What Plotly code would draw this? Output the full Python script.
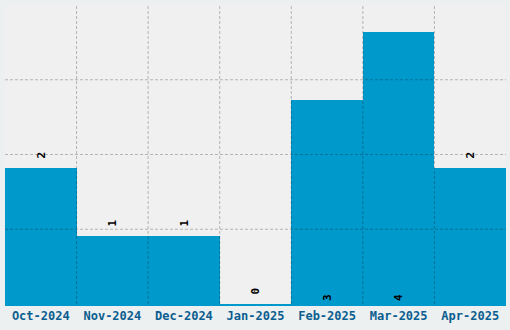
import plotly.graph_objects as go

months = ["Oct-2024", "Nov-2024", "Dec-2024", "Jan-2025", "Feb-2025", "Mar-2025", "Apr-2025"]
counts = [2, 1, 1, 0, 3, 4, 2]
label_pos = ["outside", "outside", "outside", "outside", "inside", "inside", "outside"]

Y_MAX = 4.4
Y_STEP = 1.1
BAR = "#0099cc"
GRID = "rgba(0,0,0,0.25)"

labels = [("\u2009" if p == "outside" else "") + str(v) for v, p in zip(counts, label_pos)]

fig = go.Figure(go.Bar(
    x=months, y=counts,
    text=labels,
    textposition=label_pos,
    insidetextanchor="start",
    textangle=-90,
    textfont=dict(family="DejaVu Sans Mono", size=11, color="#000000", weight="bold"),
    cliponaxis=False,
    marker=dict(color=BAR, line=dict(width=0)),
    width=1.0,
))

fig.update_layout(
    width=510, height=330,
    margin=dict(l=5, r=4, t=5, b=26),
    paper_bgcolor="#ecf0f1",
    plot_bgcolor="#f0f0f0",
    showlegend=False,
    bargap=0,
)
fig.update_xaxes(
    type="category", showgrid=False, showline=True, linecolor=BAR, linewidth=2,
    ticks="", tickfont=dict(family="DejaVu Sans Mono", size=12, color="#0b5e8f", weight="bold"),
    range=[-0.5, len(months) - 0.5], fixedrange=True,
)
fig.update_yaxes(
    range=[0, Y_MAX], showgrid=False, zeroline=False, showticklabels=False,
    ticks="", fixedrange=True,
)

# dashed gridlines drawn above the bars
for i in range(1, len(months)):
    fig.add_vline(x=i - 0.5, line=dict(color=GRID, width=1, dash="3px,2px"), layer="above")
k = 1
while k * Y_STEP < Y_MAX - 1e-9:
    fig.add_hline(y=k * Y_STEP, line=dict(color=GRID, width=1, dash="3px,2px"), layer="above")
    k += 1

fig.write_html("out.html")
